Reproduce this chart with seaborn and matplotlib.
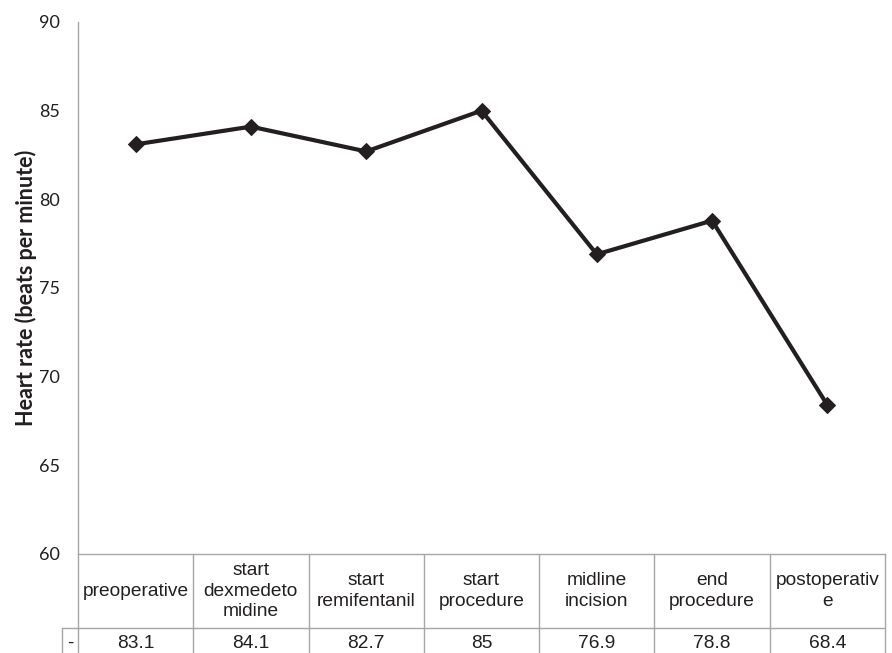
import numpy as np
import pandas as pd
import seaborn as sns
import matplotlib
matplotlib.use("Agg")
import matplotlib.pyplot as plt

categories = ["preoperative", "start\ndexmedeto\nmidine", "start\nremifentanil",
              "start\nprocedure", "midline\nincision", "end\nprocedure", "postoperativ\ne"]
heart_rate = [83.1, 84.1, 82.7, 85, 76.9, 78.8, 68.4]
value_labels = ["83.1", "84.1", "82.7", "85", "76.9", "78.8", "68.4"]
y_ticks = [60, 65, 70, 75, 80, 85, 90]
row_label = "-"
y_label = "Heart rate (beats per minute)"

sns.set_style("white")
plt.rcParams['font.family'] = ['Lato', 'DejaVu Sans']

df = pd.DataFrame({"pos": np.arange(len(heart_rate)), "hr": heart_rate})

fig = plt.figure(figsize=(8.92, 6.53), dpi=100)
ax = fig.add_axes([78/892, 1-554/653, (885-78)/892, (554-22)/653])

ink = "#231f20"
grid_grey = "#a6a6a6"

sns.lineplot(data=df, x="pos", y="hr", ax=ax, color=ink, linewidth=3.0,
             marker="D", markersize=8.5, markeredgecolor=ink, markerfacecolor=ink)

n = len(heart_rate)
ax.set_xlim(-0.5, n - 0.5)
ax.set_ylim(60, 90)
ax.set_yticks(y_ticks)
ax.set_yticklabels([str(t) for t in y_ticks], fontsize=13, color=ink)
ax.tick_params(axis="y", length=0, pad=13)
ax.set_xticks([])
ax.set_xlabel("")
ax.set_ylabel(y_label, fontsize=15.5, fontweight="bold", color=ink)
ax.yaxis.set_label_coords(-0.051, 0.5)

for s in ["top", "right"]:
    ax.spines[s].set_visible(False)
for s in ["left", "bottom"]:
    ax.spines[s].set_color(grid_grey)
    ax.spines[s].set_linewidth(1.0)

# data table below the axes
ax_h = 554 - 22
hdr_bottom = -(628 - 554) / ax_h
tbl_bottom = -(660 - 554) / ax_h
rl_left = -(78 - 62) / (885 - 78)
tr = ax.transAxes
line_kw = dict(color=grid_grey, linewidth=1.0, transform=tr, clip_on=False)

for i in range(n + 1):
    ax.plot([i / n, i / n], [0, tbl_bottom], **line_kw)
ax.plot([rl_left, 1], [hdr_bottom, hdr_bottom], **line_kw)
ax.plot([rl_left, rl_left], [hdr_bottom, tbl_bottom], **line_kw)

tfont = dict(family=["Liberation Sans", "DejaVu Sans"], fontsize=13.8, color=ink)
for i, (c, v) in enumerate(zip(categories, value_labels)):
    xc = (i + 0.5) / n
    ax.text(xc, hdr_bottom / 2, c, transform=tr, ha="center", va="center",
            linespacing=1.25, **tfont)
    ax.text(xc, -(643 - 554) / ax_h, v, transform=tr, ha="center", va="center", **tfont)
ax.text(rl_left / 2, -(643 - 554) / ax_h, row_label, transform=tr,
        ha="center", va="center", **tfont)

fig.savefig("out.png", dpi=100)
